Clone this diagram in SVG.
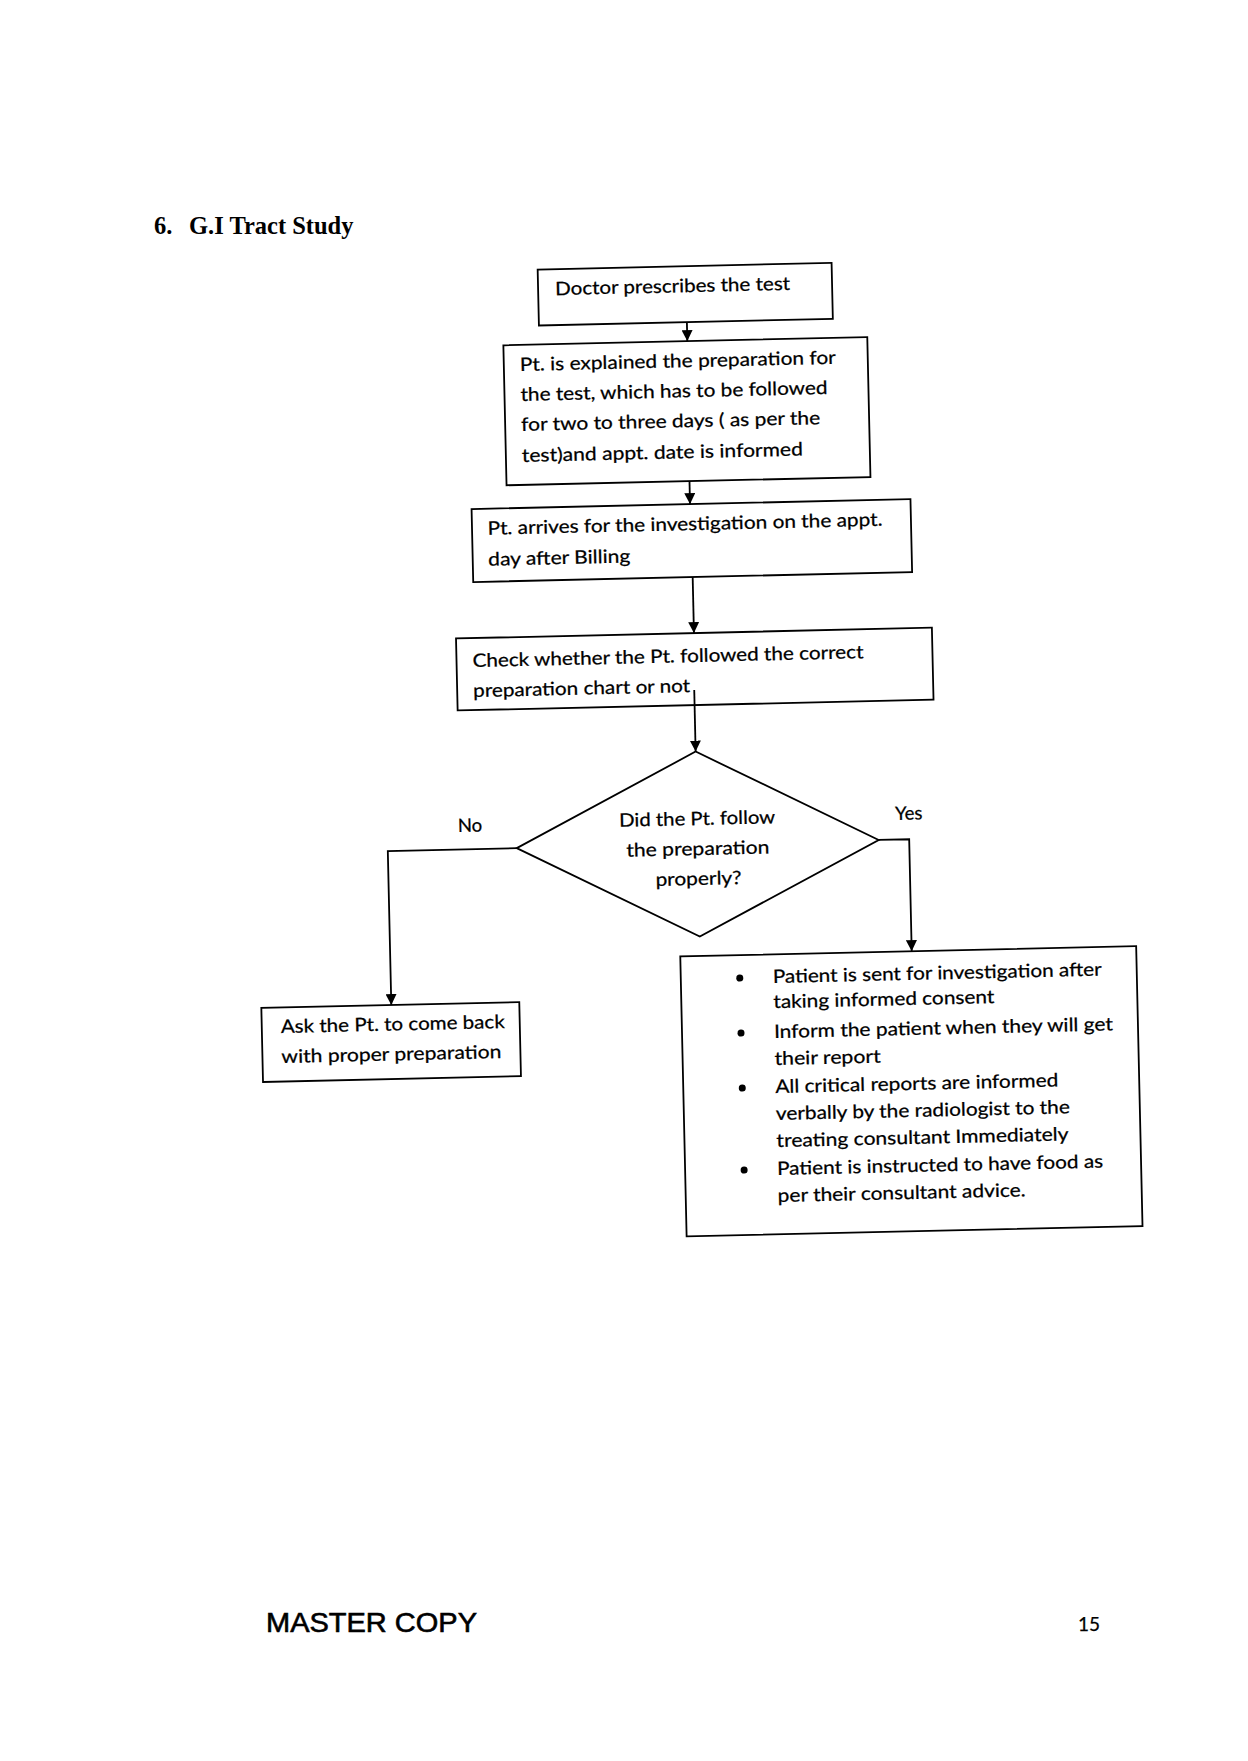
<svg xmlns="http://www.w3.org/2000/svg" width="1248" height="1761" viewBox="0 0 1248 1761">
<defs>
<marker id="ah" viewBox="0 0 10 10" refX="10" refY="5" markerWidth="11" markerHeight="11" markerUnits="userSpaceOnUse" orient="auto">
<path d="M0,0 L10,5 L0,10 z" fill="#000"/>
</marker>
<style>
.box{fill:#fff;stroke:#000;stroke-width:1.8}
.t{font-family:Lato,"Liberation Sans",sans-serif;font-size:18.5px;fill:#000;stroke:#000;stroke-width:0.25}
.c{fill:none;stroke:#000;stroke-width:1.8;marker-end:url(#ah)}
.title{font-family:"Liberation Serif","Times New Roman",serif;font-weight:bold;font-size:24.5px;fill:#000}
</style>
</defs>
<rect width="1248" height="1761" fill="#fff"/>
<g id="title">
<text class="title" x="154" y="234">6.</text>
<text class="title" x="189" y="234">G.I Tract Study</text>
</g>
<g id="chart" transform="rotate(-1.3 700 900)">
<g id="n1">
<rect class="box" x="552" y="266" width="294" height="56"/>
<text class="t" x="569" y="292" textLength="235" lengthAdjust="spacingAndGlyphs">Doctor prescribes the test</text>
</g>
<g id="n2">
<rect class="box" x="516" y="341" width="364" height="140"/>
<text class="t" x="532" y="367" textLength="316" lengthAdjust="spacingAndGlyphs">Pt. is explained the preparation for</text>
<text class="t" x="532" y="397" textLength="307" lengthAdjust="spacingAndGlyphs">the test, which has to be followed</text>
<text class="t" x="532" y="427" textLength="299" lengthAdjust="spacingAndGlyphs">for two to three days ( as per the</text>
<text class="t" x="532" y="458" textLength="281" lengthAdjust="spacingAndGlyphs">test)and appt. date is informed</text>
</g>
<g id="n3">
<rect class="box" x="480.5" y="504" width="439" height="73"/>
<text class="t" x="496" y="530" textLength="395" lengthAdjust="spacingAndGlyphs">Pt. arrives for the investigation on the appt.</text>
<text class="t" x="496" y="561" textLength="142" lengthAdjust="spacingAndGlyphs">day after Billing</text>
</g>
<g id="n4">
<rect class="box" x="462" y="633" width="476" height="72"/>
<text class="t" x="478" y="662" textLength="391" lengthAdjust="spacingAndGlyphs">Check whether the Pt. followed the correct</text>
<text class="t" x="478" y="692" textLength="217" lengthAdjust="spacingAndGlyphs">preparation chart or not</text>
</g>
<g id="n5">
<polygon class="box" points="518,844 699,751.5 880,844 699,936.5"/>
<text class="t" x="699" y="825" text-anchor="middle" textLength="156" lengthAdjust="spacingAndGlyphs">Did the Pt. follow</text>
<text class="t" x="699" y="855" text-anchor="middle" textLength="143" lengthAdjust="spacingAndGlyphs">the preparation</text>
<text class="t" x="699" y="885" text-anchor="middle" textLength="86" lengthAdjust="spacingAndGlyphs">properly?</text>
</g>
<g id="n6">
<rect class="box" x="259" y="998" width="258" height="74"/>
<text class="t" x="278" y="1023.5" textLength="224" lengthAdjust="spacingAndGlyphs">Ask the Pt. to come back</text>
<text class="t" x="278" y="1053.5" textLength="220" lengthAdjust="spacingAndGlyphs">with proper preparation</text>
</g>
<g id="n7">
<rect class="box" x="679" y="956" width="456" height="280"/>
<circle cx="738" cy="979" r="3.5"/>
<circle cx="738" cy="1034" r="3.5"/>
<circle cx="738" cy="1089" r="3.5"/>
<circle cx="738" cy="1171" r="3.5"/>
<text class="t" x="771" y="984.7" textLength="329" lengthAdjust="spacingAndGlyphs">Patient is sent for investigation after</text>
<text class="t" x="771" y="1009.7" textLength="221" lengthAdjust="spacingAndGlyphs">taking informed consent</text>
<text class="t" x="771" y="1039.7" textLength="339" lengthAdjust="spacingAndGlyphs">Inform the patient when they will get</text>
<text class="t" x="771" y="1066.7" textLength="106" lengthAdjust="spacingAndGlyphs">their report</text>
<text class="t" x="771" y="1094.7" textLength="283" lengthAdjust="spacingAndGlyphs">All critical reports are informed</text>
<text class="t" x="771" y="1121.7" textLength="294" lengthAdjust="spacingAndGlyphs">verbally by the radiologist to the</text>
<text class="t" x="771" y="1148.7" textLength="292" lengthAdjust="spacingAndGlyphs">treating consultant Immediately</text>
<text class="t" x="771" y="1176.7" textLength="326" lengthAdjust="spacingAndGlyphs">Patient is instructed to have food as</text>
<text class="t" x="771" y="1203.7" textLength="248" lengthAdjust="spacingAndGlyphs">per their consultant advice.</text>
</g>
<g id="connectors">
<line class="c" x1="700" y1="322" x2="700" y2="341"/>
<line class="c" x1="699" y1="481" x2="699" y2="504"/>
<line class="c" x1="700" y1="577" x2="700" y2="633"/>
<line class="c" x1="699" y1="690" x2="699" y2="751.5"/>
<polyline class="c" points="518,844 389,844 389,998"/>
<polyline class="c" points="880,844 910.5,844 910.5,956"/>
<text class="t" x="459.5" y="826.5">No</text>
<text class="t" x="897" y="824.4">Yes</text>
</g>
</g>
<g id="footer">
<text x="266" y="1632" style="font-family:'Liberation Sans',Arial,sans-serif;font-size:27px;fill:#000;stroke:#000;stroke-width:0.6" textLength="211" lengthAdjust="spacingAndGlyphs">MASTER COPY</text>
<text class="t" x="1078" y="1631" style="font-size:19px">15</text>
</g>
</svg>
